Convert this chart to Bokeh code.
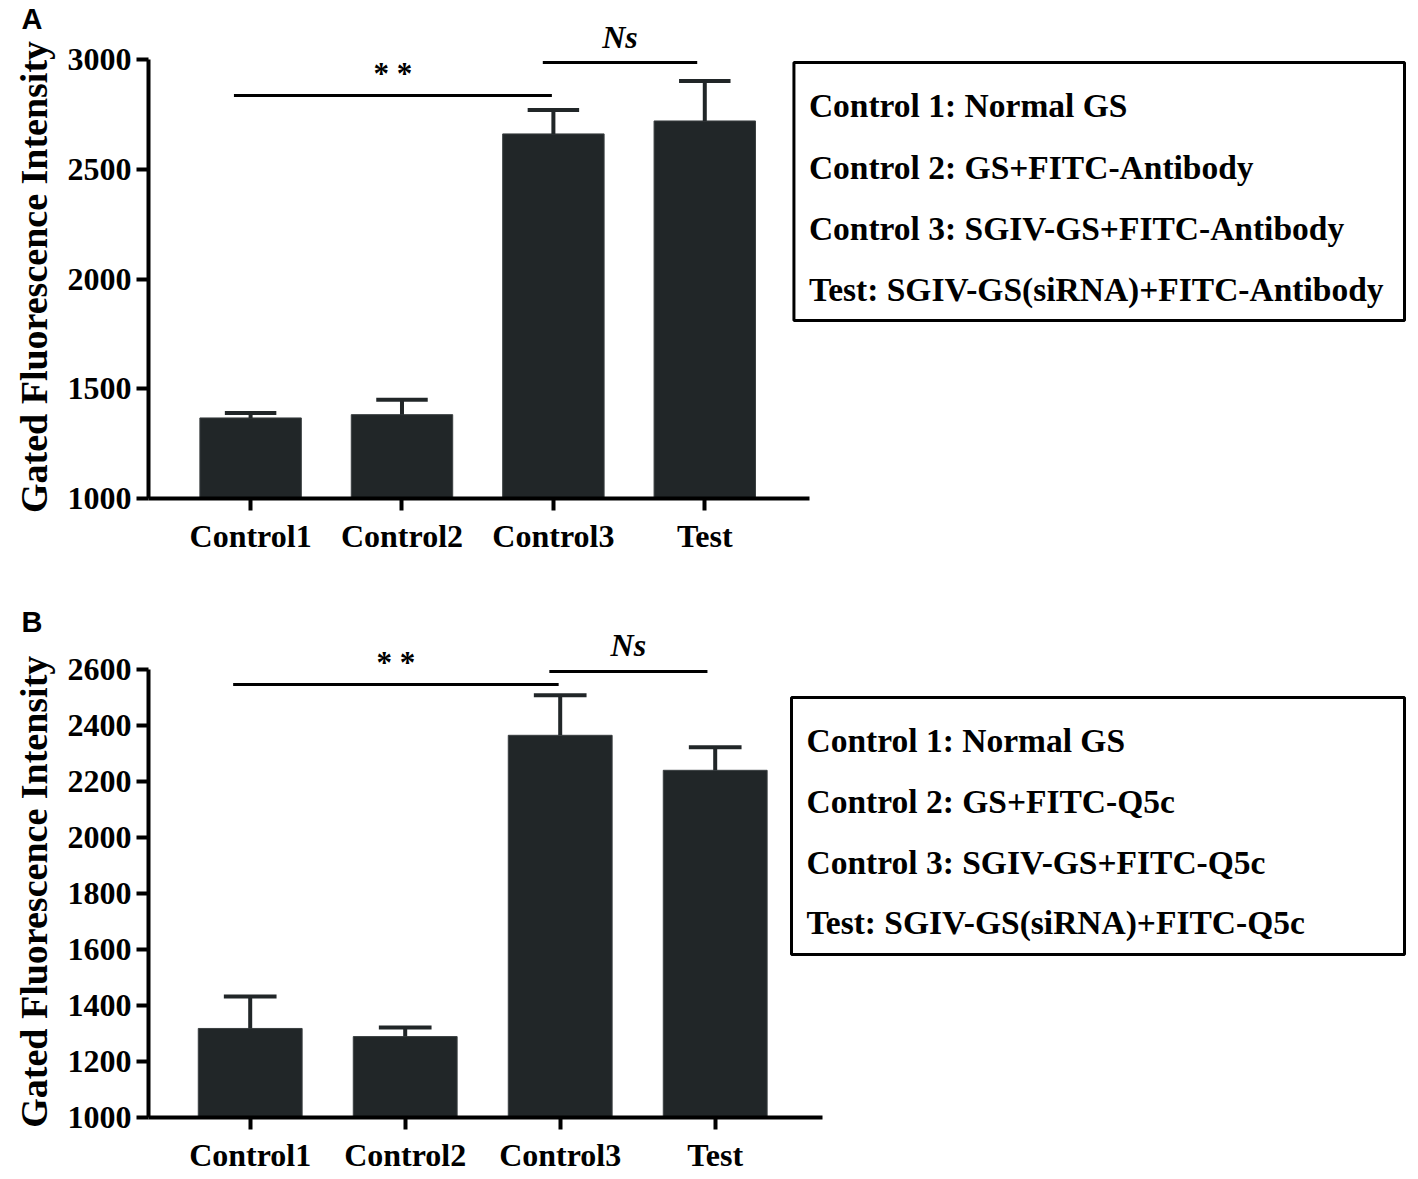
from bokeh.plotting import figure
from bokeh.layouts import column
from bokeh.models import FixedTicker, Range1d, BoxAnnotation, LinearAxis
from bokeh.core.properties import value
from bokeh.embed import file_html
from bokeh.resources import INLINE

# ---------------- data ----------------
categories = ["Control1", "Control2", "Control3", "Test"]

a_means = [1367, 1382, 2661, 2720]
a_errors = [22, 68, 109, 182]
a_ticks = [1000, 1500, 2000, 2500, 3000]
a_legend = ["Control 1: Normal GS",
            "Control 2: GS+FITC-Antibody",
            "Control 3: SGIV-GS+FITC-Antibody",
            "Test: SGIV-GS(siRNA)+FITC-Antibody"]
a_sig_levels = [2836, 2986]

b_means = [1318, 1289, 2365, 2240]
b_errors = [114, 32, 143, 82]
b_ticks = [1000, 1200, 1400, 1600, 1800, 2000, 2200, 2400, 2600]
b_legend = ["Control 1: Normal GS",
            "Control 2: GS+FITC-Q5c",
            "Control 3: SGIV-GS+FITC-Q5c",
            "Test: SGIV-GS(siRNA)+FITC-Q5c"]
b_sig_levels = [2546, 2593]

y_title = "Gated Fluorescence Intensity"
sig_marks = ["* *", "Ns"]
sig_from = [1, 3]   # category index (1-based) where each comparison starts
sig_to = [3, 4]

BAR = "#212628"
SERIF = "Liberation Serif"
SANS = "Liberation Sans"
PAGE_X0 = 4     # where the page places the figures (measured)
PAGE_Y0 = 0
FIG_W = 1406


def make_panel(letter, means, errors, ticks, legend_lines, sig_levels, g):
    axis_x = g["axis_x"]
    sp = g["spacing"]
    xs = 1 - (g["x1_px"] - axis_x) / sp
    xe = xs + (PAGE_X0 + FIG_W - axis_x) / sp
    ppu = g["ppu"]
    y0 = ticks[0]

    def X(px):
        return xs + (px - axis_x) / sp

    def Y(py):
        return y0 + (g["y0_px"] - py) / ppu

    ye = Y(g["frame_top"])
    top = g["fig_top"]
    h = g["height"]

    p = figure(width=FIG_W, height=h, output_backend="svg", toolbar_location=None,
               x_range=Range1d(xs, xe), y_range=Range1d(y0, ye),
               min_border_left=int(round(axis_x - PAGE_X0)), min_border_right=0,
               min_border_top=int(round(g["frame_top"] - top)),
               min_border_bottom=int(round(top + h - g["y0_px"])))
    p.outline_line_color = None
    p.xgrid.visible = False
    p.ygrid.visible = False
    p.background_fill_color = "white"
    p.border_fill_color = "white"

    pos = list(range(1, len(categories) + 1))

    # bars
    p.vbar(x=pos, top=means, bottom=y0, width=0.67, fill_color=BAR, line_color="#3a3f40",
           line_width=1)
    # error bars (upper only)
    uppers = [m + e for m, e in zip(means, errors)]
    p.segment(x0=pos, y0=means, x1=pos, y1=uppers, line_color=BAR, line_width=4)
    p.segment(x0=[v - 0.17 for v in pos], y0=uppers, x1=[v + 0.17 for v in pos], y1=uppers,
              line_color=BAR, line_width=4)

    # significance bars
    sx0 = [sig_from[0] - 0.11, sig_from[1] - 0.07]
    sx1 = [sig_to[0] - 0.01, sig_to[1] - 0.05]
    p.segment(x0=sx0, y0=sig_levels, x1=sx1, y1=sig_levels, line_color="black", line_width=3)
    mark_x = [(sx0[0] + sx1[0]) / 2, (sx0[1] + sx1[1]) / 2]
    mark_y = [sig_levels[0] + 22 / ppu, sig_levels[1] + 26 / ppu]
    p.text(x=[mark_x[0]], y=[mark_y[0]], text=[sig_marks[0]], text_align="center",
           text_baseline="middle", text_font=value(SERIF), text_font_style="bold",
           text_font_size="31px", text_color="black")
    p.text(x=[mark_x[1]], y=[mark_y[1]], text=[sig_marks[1]], text_align="center",
           text_baseline="middle", text_font=value(SERIF), text_font_style="bold italic",
           text_font_size="32px", text_color="black")

    # legend box
    bx = g["box"]
    p.add_layout(BoxAnnotation(left=X(bx[0]), right=X(bx[1]), top=Y(bx[2]), bottom=Y(bx[3]),
                               fill_alpha=0, line_color="black", line_alpha=1.0, line_width=3))
    p.text(x=[X(810)] * len(legend_lines), y=[Y(v) for v in g["legend_y"]], text=legend_lines,
           text_align="left", text_baseline="middle", text_font=value(SERIF),
           text_font_style="bold", text_font_size="33.5px", text_color="black")

    # axes
    xa = p.xaxis[0]
    xa.ticker = FixedTicker(ticks=pos)
    xa.major_label_overrides = {v: c for v, c in zip(pos, categories)}
    xa.bounds = (xs, X(g["xaxis_end"]))
    ya = p.yaxis[0]
    ya.ticker = FixedTicker(ticks=ticks)
    ya.bounds = (ticks[0], ticks[-1])
    # trailing no-break spaces move the centred title down along the axis
    ya.axis_label = y_title + "\u00a0" * g["pad"]
    ya.axis_label_text_font = SERIF
    ya.axis_label_text_font_style = "bold"
    ya.axis_label_text_font_size = "38px"
    ya.axis_label_text_color = "black"
    ya.axis_label_standoff = 10
    for ax in (xa, ya):
        ax.axis_line_width = 4
        ax.axis_line_color = "black"
        ax.major_tick_line_width = 4
        ax.major_tick_line_color = "black"
        ax.major_tick_out = 12
        ax.major_tick_in = 0
        ax.minor_tick_line_color = None
        ax.major_label_text_font = SERIF
        ax.major_label_text_font_style = "bold"
        ax.major_label_text_font_size = "32px"
        ax.major_label_text_color = "black"
    ya.major_label_standoff = 5
    xa.major_label_standoff = 7

    # panel letter, as the only label of an outer, line-less left axis
    ly = int(round(Y(g["letter_y"])))
    la = LinearAxis(ticker=FixedTicker(ticks=[ly]), major_label_overrides={ly: letter},
                    axis_line_color=None, major_tick_line_color=None, major_tick_out=0,
                    major_tick_in=0, minor_tick_line_color=None,
                    major_label_standoff=-33, major_label_text_font=SANS,
                    major_label_text_font_style="bold", major_label_text_font_size="29px",
                    major_label_text_color="black")
    p.add_layout(la, "left")
    return p


geo_a = dict(fig_top=PAGE_Y0, height=590, frame_top=17, axis_x=147, x1_px=249.5, spacing=152,
             y0_px=498, ppu=439 / 2000, xaxis_end=811, box=(795, 1408, 62, 320),
             legend_y=[105, 167, 228, 289], letter_y=18.5, pad=4)
geo_b = dict(fig_top=PAGE_Y0 + 590, height=585, frame_top=618, axis_x=152, x1_px=253.7,
             spacing=155, y0_px=1117, ppu=448 / 1600, xaxis_end=826, box=(795, 1408, 697, 954),
             legend_y=[740, 801, 862, 922], letter_y=621, pad=5)

pa = make_panel("A", a_means, a_errors, a_ticks, a_legend, a_sig_levels, geo_a)
pb = make_panel("B", b_means, b_errors, b_ticks, b_legend, b_sig_levels, geo_b)

layout = column(pa, pb, spacing=0)
open("out.html", "w").write(file_html(layout, INLINE))
